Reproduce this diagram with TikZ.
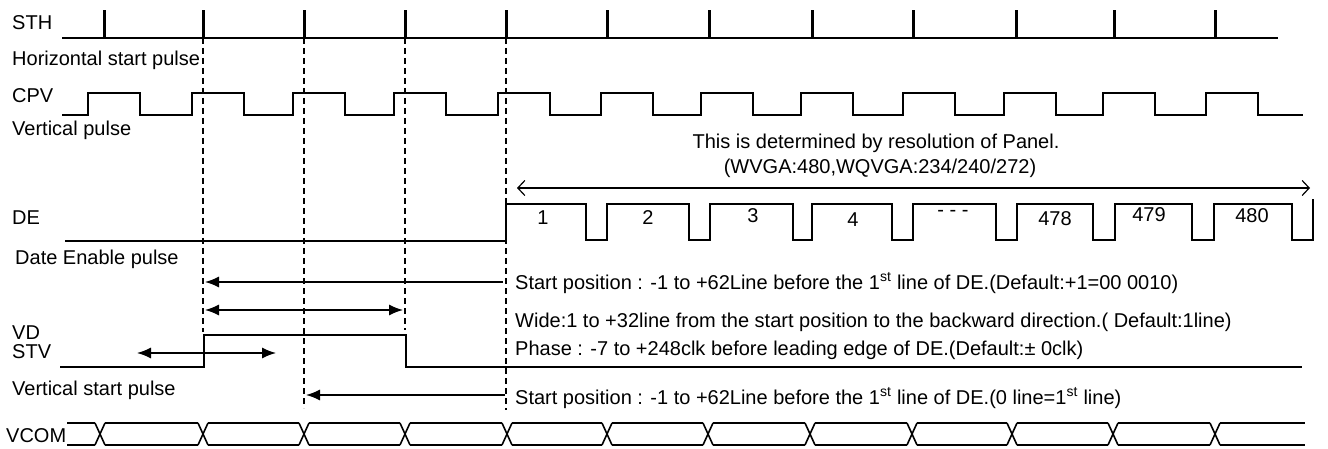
\documentclass[tikz,border=0pt]{standalone}
\usepackage{fontspec}
\setmainfont{Liberation Sans}
\usetikzlibrary{arrows.meta}

\begin{document}
\begin{tikzpicture}[
x=1pt, y=-1pt,
lbl/.style={anchor=west, inner sep=0pt, font=\fontsize{20}{23}\selectfont},
note/.style={anchor=west, inner sep=0pt, font=\fontsize{20}{23}\selectfont},
num/.style={inner sep=0pt, font=\fontsize{20}{23}\selectfont},
wave/.style={line width=2pt, line join=miter},
tick/.style={line width=3pt},
guide/.style={line width=1.2pt, dash pattern=on 6pt off 4pt},
arrow/.style={-{Latex[length=14pt, width=11pt]}, line width=1.3pt},
darrow/.style={{Latex[length=14pt, width=11pt]}-{Latex[length=14pt, width=11pt]}, line width=1.3pt},
barb/.style={{Straight Barb[length=7pt, width=15pt]}-{Straight Barb[length=7pt, width=15pt]}, line width=1.2pt}
]
\useasboundingbox (0,0) rectangle (1328,449);

% signal names
\node[lbl] (sth) at (12,23) {STH};
\node[lbl] (sthtxt) at (12,60) {Horizontal start pulse};
\node[lbl] (cpv) at (12,96) {CPV};
\node[lbl] (cpvtxt) at (12,130) {Vertical pulse};
\node[lbl] (de) at (12,218) {DE};
\node[lbl] (detxt) at (15,259) {Date Enable pulse};
\node[lbl] (vd) at (12,333) {VD};
\node[lbl] (stv) at (12,352) {STV};
\node[lbl] (stvtxt) at (12,390) {Vertical start pulse};
\node[lbl] (vcom) at (6,436) {VCOM};

% STH
\draw[wave] (62,38) -- (1278,38);
\foreach \x in {104,203,304,405,506,607,709,812,913,1016,1114,1215}
  \draw[tick] (\x,38) -- (\x,10);

% CPV
\draw[wave] (62,115)
  \foreach \r in {88,192,293,394,498,601,701,801,903,1004,1103,1206} {
    -- (\r,115) -- (\r,93) -- (\r+52,93) -- (\r+52,115)}
  -- (1303,115);

% DE
\draw[wave] (65,241) -- (506,241) -- (506,204)
  \foreach \f/\r in {586/607,689/710,793/812,892/913,996/1017,1093/1115,1192/1214,1292/1313} {
    -- (\f,204) -- (\f,240) -- (\r,240) -- (\r,204)}
  -- (1313,199);
\node[num] (l1) at (543,218) {1};
\node[num] (l2) at (648,218) {2};
\node[num] (l3) at (753,216) {3};
\node[num] (l4) at (853,220) {4};
\node[num] (ldots) at (953,213) {- - -};
\node[num] (l478) at (1055,219) {478};
\node[num] (l479) at (1149,215) {479};
\node[num] (l480) at (1252,216) {480};

% VD / STV
\draw[wave] (60,367) -- (204,367) -- (204,335) -- (406,335) -- (406,367) -- (1302,367);

% VCOM
\foreach \a/\b in {62/100,100/203,203/304,304/405,405/507,507/607,607/708,708/810,810/912,912/1012,1012/1113,1113/1215,1215/1310} {
  \draw[line width=1.6pt] (\a+5,423) -- (\b-5,423);
  \draw[line width=1.6pt] (\a+5,445) -- (\b-5,445);
}
\foreach \c in {100,203,304,405,507,607,708,810,912,1012,1113,1215} {
  \draw[line width=1.6pt] (\c-5,423) -- (\c+5,445);
  \draw[line width=1.6pt] (\c-5,445) -- (\c+5,423);
}

% timing guides
\draw[guide] (203,38) -- (203,332);
\draw[guide] (304,38) -- (304,408);
\draw[guide] (405,38) -- (405,330);
\draw[guide] (506,38) -- (506,410);

% dimension arrows
\coordinate (r1) at (517,188);
\coordinate (r2) at (1310,188);
\coordinate (s1) at (503,282);
\coordinate (s2) at (205,282);
\coordinate (w1) at (205,310);
\coordinate (w2) at (403,310);
\coordinate (p1) at (137,353);
\coordinate (p2) at (276,353);
\coordinate (v1) at (505,395);
\coordinate (v2) at (306,395);
\draw[barb] (r1) -- (r2);
\draw[arrow] (s1) -- (s2);
\draw[darrow] (w1) -- (w2);
\draw[darrow] (p1) -- (p2);
\draw[arrow] (v1) -- (v2);

% notes
\node[note, anchor=center] (res) at (876,143) {This is determined by resolution of Panel.};
\node[note, anchor=center] (resval) at (880,168) {(WVGA:480,WQVGA:234/240/272)};
\node[note] (start) at (515,283) {Start position : -1 to +62Line before the 1\textsuperscript{st} line of DE.(Default:+1=00 0010)};
\node[note] (wide) at (515,322) {Wide:1 to +32line from the start position to the backward direction.( Default:1line)};
\node[note] (phase) at (515,350) {Phase : -7 to +248clk before leading edge of DE.(Default:± 0clk)};
\node[note] (vstart) at (515,398) {Start position : -1 to +62Line before the 1\textsuperscript{st} line of DE.(0 line=1\textsuperscript{st} line)};

\end{tikzpicture}
\end{document}
